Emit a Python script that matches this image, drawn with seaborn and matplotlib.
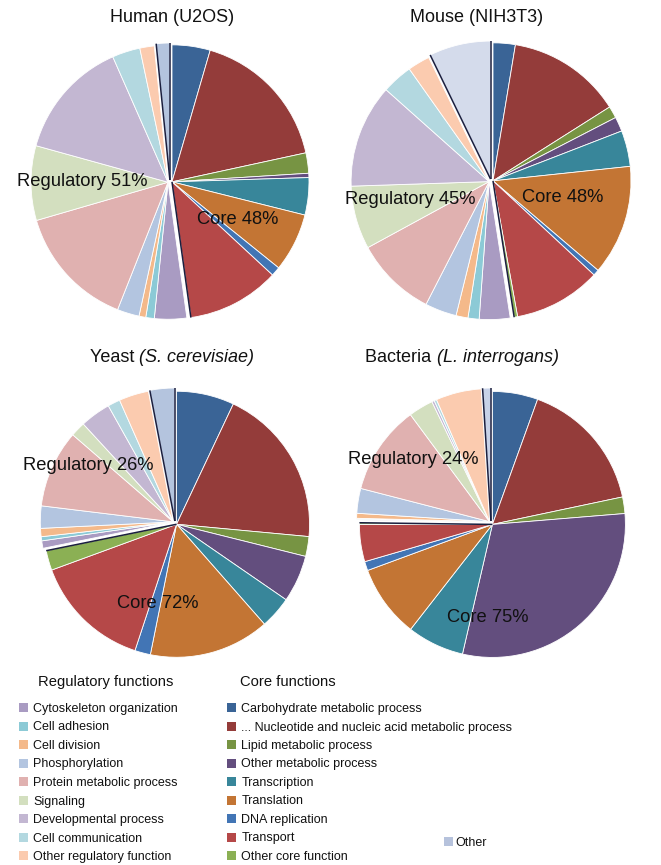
import numpy as np
import matplotlib
matplotlib.use("Agg")
import matplotlib.pyplot as plt
from matplotlib.patches import Patch
import seaborn as sns

# ---------------- data ----------------
core_labels = ["Carbohydrate metabolic process",
               "... Nucleotide and nucleic acid metabolic process",
               "Lipid metabolic process", "Other metabolic process",
               "Transcription", "Translation", "DNA replication",
               "Transport", "Other core function"]
reg_labels = ["Cytoskeleton organization", "Cell adhesion", "Cell division",
              "Phosphorylation", "Protein metabolic process", "Signaling",
              "Developmental process", "Cell communication",
              "Other regulatory function"]

titles_plain = ["Human (U2OS)", "Mouse (NIH3T3)", "Yeast ", "Bacteria "]
titles_italic = ["", "", "(S. cerevisiae)", "(L. interrogans)"]

human_core = [4.5, 17.1, 2.4, 0.5, 4.4, 6.9, 1.1, 10.9, 0.0]
human_reg = [3.8, 1.0, 0.8, 2.6, 14.5, 8.8, 14.1, 3.3, 1.7]
human_other = 1.6

mouse_core = [2.6, 13.4, 1.4, 1.7, 4.2, 12.9, 0.7, 10.2, 0.4]
mouse_reg = [3.6, 1.3, 1.4, 3.7, 9.5, 7.4, 12.1, 3.6, 2.6]
mouse_other = 7.2

yeast_core = [7.0, 19.4, 2.4, 5.7, 3.9, 14.6, 1.9, 14.3, 2.4]
yeast_reg = [0.9, 0.5, 1.0, 2.7, 9.4, 1.8, 3.7, 1.5, 3.6]
yeast_other = 3.0

bact_core = [5.5, 16.1, 2.0, 29.8, 6.9, 8.8, 1.1, 4.5, 0.2]
bact_reg = [0.1, 0.1, 0.6, 3.0, 10.8, 3.0, 0.3, 0.3, 5.5]
bact_other = 1.0

core_pct_labels = ["Core 48%", "Core 48%", "Core 72%", "Core 75%"]
reg_pct_labels = ["Regulatory 51%", "Regulatory 45%", "Regulatory 26%", "Regulatory 24%"]

# ---------------- style ----------------
core_colors = ["#3a6496", "#943c3a", "#779443", "#634e7e", "#38869a",
               "#c37534", "#4275b5", "#b54848", "#8bb054"]
reg_colors = ["#a99bc2", "#8ccad6", "#f4b98a", "#b3c5e0", "#e0b1b0",
              "#d3dfbf", "#c3b7d2", "#b3d8e0", "#fbcbaf"]
other_colors = ["#b4c4de", "#d4dbeb", "#b4c4de", "#c8d2e8"]
legend_other_color = "#b6c2dc"
sep_color = "#1b1f3f"
txt_color = "#111111"

sns.set_theme(style="white")
plt.rcParams["font.family"] = ["Liberation Sans", "DejaVu Sans"]

W, H = 661, 865
fig = plt.figure(figsize=(W / 100, H / 100), dpi=100)
ax = fig.add_axes([0, 0, 1, 1])

# pie layout (pixel coordinates, y measured from top)
centers = [(170, 182), (491, 181), (175, 523), (491, 523)]
radii = [137, 138, 133, 133]
title_pos = [(172, 17), (477, 17), (172, 357), (462, 357)]
reg_off = [(-88, 0), (-81, 19), (-87, -58), (-78, -63)]
core_off = [(68, 38), (72, 16), (-17, 80), (-3, 94)]

datasets = [(human_core, human_reg, human_other),
            (mouse_core, mouse_reg, mouse_other),
            (yeast_core, yeast_reg, yeast_other),
            (bact_core, bact_reg, bact_other)]


def comp(deg):
    # compass angle (clockwise from top) -> unit vector in data coords
    a = np.deg2rad(90 - deg)
    return np.cos(a), np.sin(a)


renderer = fig.canvas.get_renderer()

for i, (core, reg, other) in enumerate(datasets):
    cx, cy = centers[i][0], H - centers[i][1]
    r = radii[i]
    total = sum(core) + sum(reg) + other
    groups = [(core, core_colors), (reg, reg_colors), ([other], [other_colors[i]])]
    cum = 0.0
    for gi, (vals, cols) in enumerate(groups):
        fr = [v / total for v in vals]
        keep = [(f, c) for f, c in zip(fr, cols) if f > 0]
        gsum = sum(fr)
        mid = 360 * (cum + gsum / 2)
        ux, uy = comp(mid)
        off = 2.0
        c = (cx + off * ux, cy + off * uy)
        ax.pie([k[0] for k in keep], colors=[k[1] for k in keep],
               startangle=90 - 360 * cum, counterclock=False, normalize=False,
               radius=r, center=c,
               wedgeprops=dict(edgecolor="white", linewidth=0.6))
        a0 = 360 * cum
        a1 = 360 * (cum + gsum)
        edges = []
        if gi == 0:
            edges = [a1]
        elif gi == 2:
            edges = [a0, a1]
        for e in edges:
            ex, ey = comp(e)
            ax.plot([c[0], c[0] + r * ex], [c[1], c[1] + r * ey],
                    color=sep_color, lw=1.1, solid_capstyle="butt", zorder=5)
        cum += gsum

    # title (plain part + italic part, centred together)
    tx, ty = title_pos[i][0], H - title_pos[i][1]
    t1 = ax.text(0, ty, titles_plain[i], ha="left", va="center",
                 fontsize=13, color=txt_color)
    t2 = ax.text(0, ty, titles_italic[i], ha="left", va="center",
                 fontsize=13, style="italic", color=txt_color)
    w1 = t1.get_window_extent(renderer).width if titles_plain[i] else 0
    w2 = t2.get_window_extent(renderer).width if titles_italic[i] else 0
    x0 = tx - (w1 + w2) / 2
    t1.set_x(x0)
    t2.set_x(x0 + w1)

    ax.text(cx + reg_off[i][0], cy - reg_off[i][1], reg_pct_labels[i],
            ha="center", va="center", fontsize=13.2, color=txt_color, zorder=6)
    ax.text(cx + core_off[i][0], cy - core_off[i][1], core_pct_labels[i],
            ha="center", va="center", fontsize=13.2, color=txt_color, zorder=6)

ax.set_xlim(0, W)
ax.set_ylim(0, H)
ax.set_aspect("equal")
ax.axis("off")

# ---------------- legends ----------------
ax.text(38, H - 682, "Regulatory functions", ha="left", va="center",
        fontsize=10.6, color=txt_color)
ax.text(240, H - 682, "Core functions", ha="left", va="center",
        fontsize=10.6, color=txt_color)

common = dict(frameon=False, fontsize=9, handlelength=0.7, handleheight=0.7,
              handletextpad=0.45, labelspacing=0.52, borderpad=0, borderaxespad=0,
              loc="upper left")
reg_handles = [Patch(facecolor=c, edgecolor="none") for c in reg_colors]
core_handles = [Patch(facecolor=c, edgecolor="none") for c in core_colors]
leg1 = ax.legend(reg_handles, reg_labels,
                 bbox_to_anchor=(19 / W, 1 - 703 / H), bbox_transform=fig.transFigure,
                 labelcolor=txt_color, **common)
ax.add_artist(leg1)
leg2 = ax.legend(core_handles, core_labels,
                 bbox_to_anchor=(227 / W, 1 - 703 / H), bbox_transform=fig.transFigure,
                 labelcolor=txt_color, **common)
ax.add_artist(leg2)
leg3 = ax.legend([Patch(facecolor=legend_other_color, edgecolor="none")], ["Other"],
                 bbox_to_anchor=(444 / W, 1 - 837 / H), bbox_transform=fig.transFigure,
                 labelcolor=txt_color, **{**common, "handletextpad": 0.2})

fig.savefig("out.png", dpi=100, facecolor="white")
